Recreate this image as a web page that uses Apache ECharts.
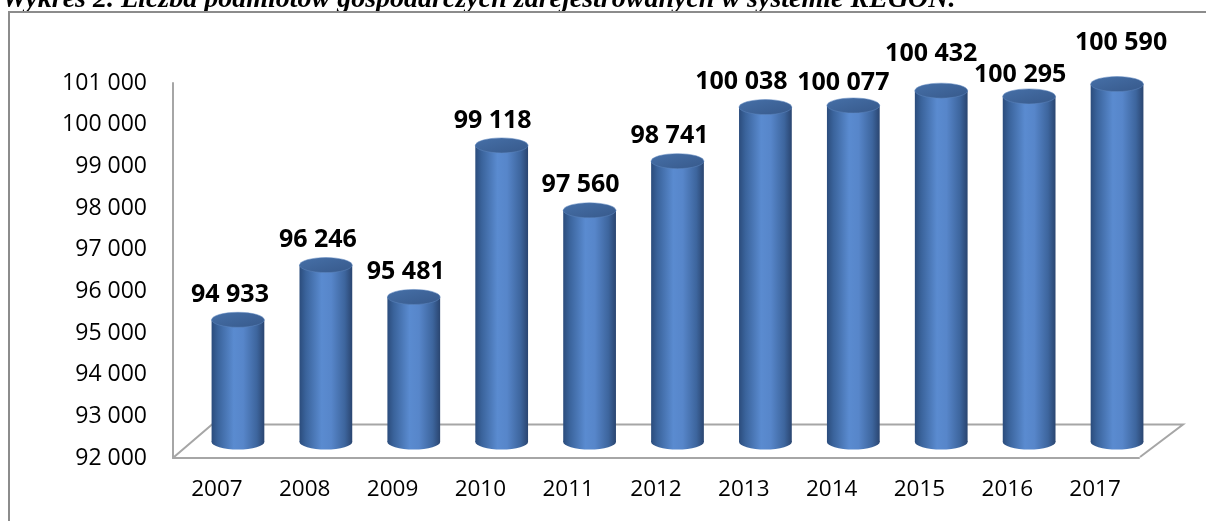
<!DOCTYPE html>
<html>
<head>
<meta charset="utf-8">
<style>
  html, body { margin: 0; padding: 0; background: #fff; }
  #chart { width: 1206px; height: 521px; }
</style>
<script src="https://cdn.jsdelivr.net/npm/echarts@6/dist/echarts.min.js"></script>
</head>
<body>
<div id="chart"></div>
<script>
// dane z wykresu
const years = ["2007", "2008", "2009", "2010", "2011", "2012", "2013", "2014", "2015", "2016", "2017"];
const firms = [94933, 96246, 95481, 99118, 97560, 98741, 100038, 100077, 100432, 100295, 100590];
const axisMin = 92000;
const axisMax = 101000;
const axisStep = 1000;

// przesunięcia etykiet (Excel rozsuwa nachodzące na siebie etykiety)
const labelShift = [[-8, 0], [-8, 0], [-8, 0], [-9, 0], [-9, 0], [-8, 0], [-24, 0], [-10, 2], [-10, -12], [-9, 3], [4, -16]];

const fmt = (v) => String(v).replace(/\B(?=(\d{3})+(?!\d))/g, " ");

const chart = echarts.init(document.getElementById("chart"));

const FONT = '"Open Sans", "Noto Sans", sans-serif';
const GRID_LINE = "#a6a6a6";

function renderCylinder(params, api) {
  const i = api.value(0);
  const v = api.value(1);
  const top = api.coord([i, v]);
  const base = api.coord([i, axisMin]);
  const w = api.size([1, 0])[0] * 0.6;
  const rx = w / 2;
  const ry = 7.5;
  const cx = top[0];
  const bodyFill = new echarts.graphic.LinearGradient(0, 0, 1, 0, [
    { offset: 0, color: "#2b4c7c" },
    { offset: 0.12, color: "#3a639b" },
    { offset: 0.42, color: "#5a8bd0" },
    { offset: 0.6, color: "#5786ca" },
    { offset: 0.86, color: "#3d659d" },
    { offset: 1, color: "#2a4570" }
  ]);
  const topFill = new echarts.graphic.LinearGradient(0, 0, 1, 1, [
    { offset: 0, color: "#4670a8" },
    { offset: 1, color: "#37598b" }
  ]);
  const sh = labelShift[i] || [0, 0];
  return {
    type: "group",
    children: [
      {
        type: "circle",
        x: cx, y: base[1], scaleY: ry / rx,
        shape: { cx: 0, cy: 0, r: rx },
        style: { fill: bodyFill }
      },
      {
        type: "rect",
        shape: { x: cx - rx, y: top[1], width: w, height: base[1] - top[1] },
        style: { fill: bodyFill }
      },
      {
        type: "circle",
        x: cx, y: top[1], scaleY: ry / rx,
        shape: { cx: 0, cy: 0, r: rx },
        style: { fill: topFill, stroke: "#5f88c0", lineWidth: 0.8 }
      },
      {
        type: "text",
        x: cx + sh[0],
        y: top[1] - 25 + sh[1],
        style: {
          text: fmt(v),
          align: "center",
          verticalAlign: "middle",
          font: "bold 25px " + FONT,
          fill: "#000"
        }
      }
    ]
  };
}

const option = {
  backgroundColor: "#fff",
  animation: false,
  grid: [
    // przednia płaszczyzna: osie i podpisy
    { left: 173, right: 67, top: 83, bottom: 63 },
    // walce (lekko w głąb)
    { left: 194, right: 45, top: 67, bottom: 79 }
  ],
  xAxis: [
    {
      gridIndex: 0,
      type: "category",
      data: years,
      axisLine: { show: true, lineStyle: { color: GRID_LINE, width: 2 } },
      axisTick: { show: false },
      axisLabel: { color: "#000", fontSize: 22.5, fontFamily: FONT, margin: 20 }
    },
    {
      gridIndex: 1,
      type: "category",
      data: years,
      show: false
    }
  ],
  yAxis: [
    {
      gridIndex: 0,
      type: "value",
      min: axisMin,
      max: axisMax,
      interval: axisStep,
      axisLine: { show: true, lineStyle: { color: GRID_LINE, width: 2 } },
      axisTick: { show: false },
      splitLine: { show: false },
      axisLabel: { color: "#000", fontSize: 23, fontFamily: FONT, margin: 26, formatter: (v) => fmt(v) }
    },
    {
      gridIndex: 1,
      type: "value",
      min: axisMin,
      max: axisMax,
      show: false
    }
  ],
  graphic: [
    {
      type: "text",
      left: 2,
      top: -14,
      style: {
        text: "Wykres 2. Liczba podmiotów gospodarczych zarejestrowanych w systemie REGON.",
        font: 'bold italic 28px "Liberation Serif", "DejaVu Serif", serif',
        fill: "#000"
      }
    },
    // ramka
    {
      type: "polyline",
      shape: { points: [[9, 521], [9, 12], [1206, 12]] },
      style: { stroke: "#8c8c8c", lineWidth: 2, fill: null }
    },
    // podłoga 3D
    {
      type: "polyline",
      z: -1,
      shape: { points: [[174, 457], [212, 424.5], [1183, 424.5], [1140, 457]] },
      style: { stroke: GRID_LINE, lineWidth: 2, fill: null }
    }
  ],
  series: [
    {
      type: "custom",
      xAxisIndex: 1,
      yAxisIndex: 1,
      renderItem: renderCylinder,
      data: firms.map((v, i) => [i, v]),
      z: 3
    }
  ]
};

chart.setOption(option);
</script>
</body>
</html>
